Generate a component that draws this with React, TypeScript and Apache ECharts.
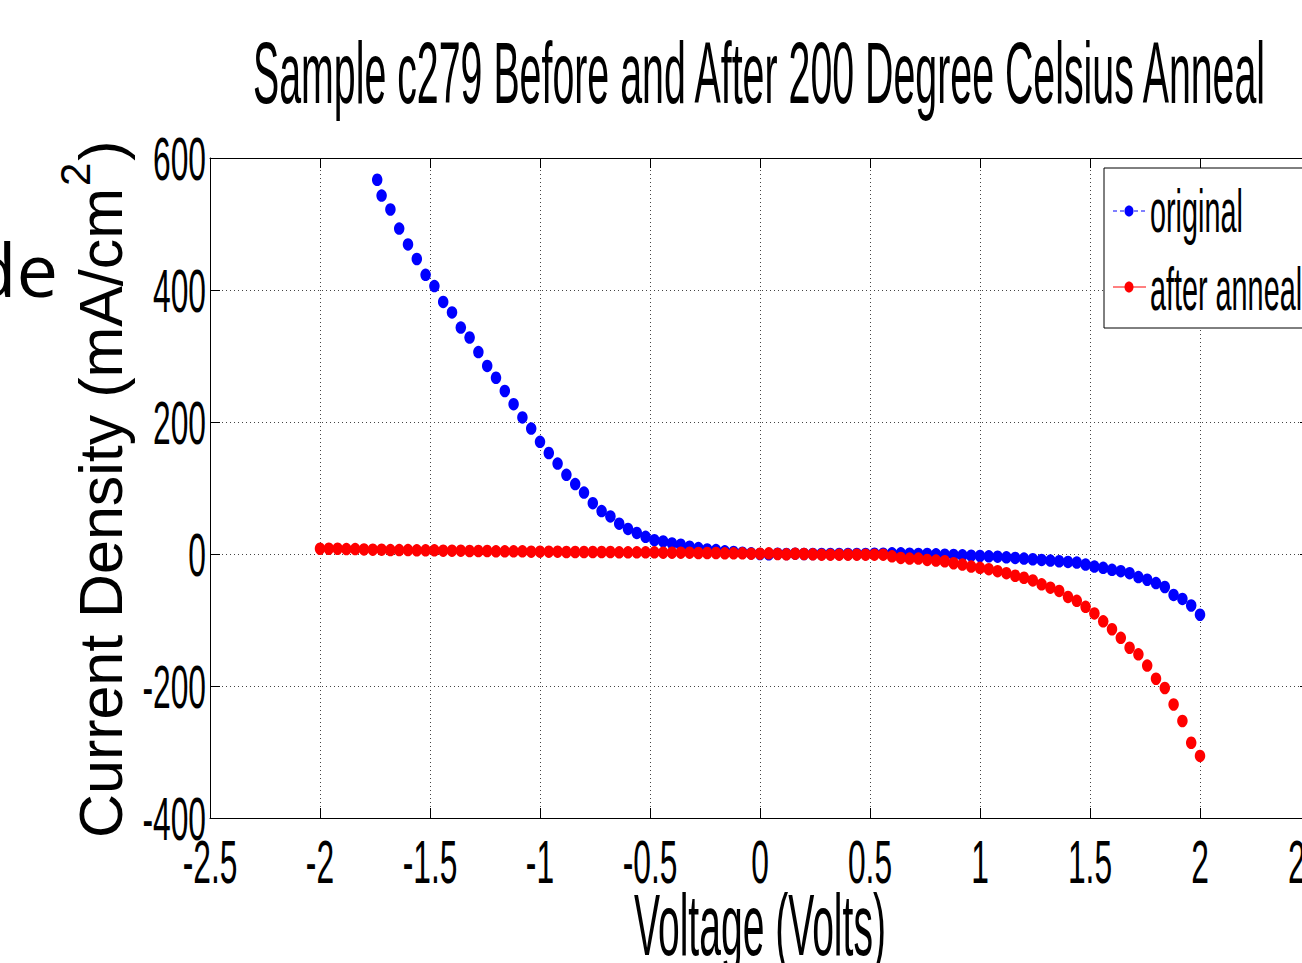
import React, { useEffect, useRef } from "react";
import * as echarts from "echarts";

const TITLE = "Sample c279 Before and After 200 Degree Celsius Anneal";
const X_NAME = "Voltage (Volts)";
const Y_NAME_MAIN = "Current Density (mA/cm";
const Y_NAME_SUP = "2";
const Y_NAME_END = ")";
const SIDE_TEXT = "de";
const SERIES_NAMES = ["original", "after anneal"];

const X_TICKS = [-2.5, -2, -1.5, -1, -0.5, 0, 0.5, 1, 1.5, 2, 2.5];
const X_TICK_LABELS = ["-2.5", "-2", "-1.5", "-1", "-0.5", "0", "0.5", "1", "1.5", "2", "2.5"];
const Y_TICKS = [-400, -200, 0, 200, 400, 600];
const Y_TICK_LABELS = ["-400", "-200", "0", "200", "400", "600"];

const V_ORIGINAL = [
  -1.74, -1.72, -1.68, -1.64, -1.6, -1.56, -1.52, -1.48, -1.44, -1.4, -1.36, -1.32, -1.28, -1.24, -1.2, -1.16,
  -1.12, -1.08, -1.04, -1.0, -0.96, -0.92, -0.88, -0.84, -0.8, -0.76, -0.72, -0.68, -0.64, -0.6, -0.56, -0.52,
  -0.48, -0.44, -0.4, -0.36, -0.32, -0.28, -0.24, -0.2, -0.16, -0.12, -0.08, -0.04, 0, 0.04, 0.08, 0.12,
  0.16, 0.2, 0.24, 0.28, 0.32, 0.36, 0.4, 0.44, 0.48, 0.52, 0.56, 0.6, 0.64, 0.68, 0.72, 0.76,
  0.8, 0.84, 0.88, 0.92, 0.96, 1.0, 1.04, 1.08, 1.12, 1.16, 1.2, 1.24, 1.28, 1.32, 1.36, 1.4,
  1.44, 1.48, 1.52, 1.56, 1.6, 1.64, 1.68, 1.72, 1.76, 1.8, 1.84, 1.88, 1.92, 1.96, 2.0,
];
const J_ORIGINAL = [
  567, 543, 522, 493, 469, 447, 423, 406, 382, 366, 343, 328, 306, 285, 267, 247,
  227, 207, 190, 170, 153, 137, 120, 106, 93, 77, 65, 57, 46, 38, 32, 26,
  21, 19, 16, 14, 11, 9, 7, 6, 4, 3, 2, 1, 0, -0.5, 0.5, 0,
  0.5, 0, 0, 0, 0, 0, 0, 0, 0, 0.5, 0.5, 1, 1, 0.5, 0, 0,
  -0.5, -1, -1.5, -2, -2.5, -3, -3.5, -4, -5, -6, -7, -8, -9, -10, -11, -12,
  -13, -16, -19, -21, -24, -26, -29, -35, -39, -44, -50, -62, -68, -78, -92,
];

const V_ANNEAL = [
  -2.0, -1.96, -1.92, -1.88, -1.84, -1.8, -1.76, -1.72, -1.68, -1.64, -1.6, -1.56, -1.52, -1.48, -1.44, -1.4,
  -1.36, -1.32, -1.28, -1.24, -1.2, -1.16, -1.12, -1.08, -1.04, -1.0, -0.96, -0.92, -0.88, -0.84, -0.8, -0.76,
  -0.72, -0.68, -0.64, -0.6, -0.56, -0.52, -0.48, -0.44, -0.4, -0.36, -0.32, -0.28, -0.24, -0.2, -0.16, -0.12,
  -0.08, -0.04, 0, 0.04, 0.08, 0.12, 0.16, 0.2, 0.24, 0.28, 0.32, 0.36, 0.4, 0.44, 0.48, 0.52,
  0.56, 0.6, 0.64, 0.68, 0.72, 0.76, 0.8, 0.84, 0.88, 0.92, 0.96, 1.0, 1.04, 1.08, 1.12, 1.16,
  1.2, 1.24, 1.28, 1.32, 1.36, 1.4, 1.44, 1.48, 1.52, 1.56, 1.6, 1.64, 1.68, 1.72, 1.76, 1.8,
  1.84, 1.88, 1.92, 1.96, 2.0,
];
const J_ANNEAL = [
  8, 8, 8, 7.5, 7.5, 7, 6.5, 6.5, 6, 6, 6, 5.5, 5.5, 5.5, 5, 5,
  5, 4.5, 4.5, 4.5, 4, 4, 4, 4, 3.5, 3.5, 3.5, 3.5, 3, 3, 3, 3,
  3, 3, 2.5, 2.5, 2.5, 2.5, 2.5, 2, 2, 2, 2, 1.5, 1.5, 1.5, 1, 1,
  1, 0.5, 0.5, 1, 0, -0.5, 0.5, 0, -0.5, -1, -1, -1, -1, -1, -1, -1,
  -1, -3.5, -6, -7, -7, -9, -10, -11, -14, -16, -19, -21, -23, -26, -29, -33,
  -36, -40, -46, -51, -56, -65, -71, -80, -90, -102, -114, -127, -142, -152, -169, -189,
  -203, -228, -253, -286, -306,
];

const NARROW = "'Liberation Sans Narrow', 'Liberation Sans', Arial, sans-serif";
const SIDE_FONT = "'Open Sans', 'Noto Sans', sans-serif";

export default function App() {
  const ref = useRef<HTMLDivElement>(null);

  useEffect(() => {
    const el = ref.current;
    if (!el) return;
    const chart = echarts.init(el, null, { renderer: "svg" });

    const axisLine = { show: true, onZero: false, lineStyle: { color: "#000", width: 1 } };
    const axisTick = { show: true, inside: true, length: 10, lineStyle: { color: "#000", width: 1 } };
    const gridLine = { show: true, lineStyle: { type: [1, 3], color: "#444", width: 1 } };

    chart.setOption({
      animation: false,
      backgroundColor: "#ffffff",
      grid: { left: 210, top: 158, width: 1100, height: 660, containLabel: false },
      xAxis: [
        { type: "value", min: -2.5, max: 2.5, interval: 0.5, position: "bottom", axisLine, axisTick, axisLabel: { show: false }, splitLine: gridLine },
        { type: "value", min: -2.5, max: 2.5, interval: 0.5, position: "top", axisLine, axisTick, axisLabel: { show: false }, splitLine: { show: false } },
      ],
      yAxis: [
        { type: "value", min: -400, max: 600, interval: 200, position: "left", axisLine, axisTick, axisLabel: { show: false }, splitLine: gridLine },
        { type: "value", min: -400, max: 600, interval: 200, position: "right", axisLine, axisTick, axisLabel: { show: false }, splitLine: { show: false } },
      ],
      series: [
        {
          name: SERIES_NAMES[0],
          type: "scatter",
          xAxisIndex: 0,
          yAxisIndex: 0,
          symbol: "circle",
          symbolSize: [10.5, 12.5],
          itemStyle: { color: "#0000ff", opacity: 1 },
          data: V_ORIGINAL.map((v, i) => [v, J_ORIGINAL[i]]),
        },
        {
          name: SERIES_NAMES[1],
          type: "scatter",
          xAxisIndex: 0,
          yAxisIndex: 0,
          symbol: "circle",
          symbolSize: [10.5, 12.5],
          itemStyle: { color: "#ff0000", opacity: 1 },
          data: V_ANNEAL.map((v, i) => [v, J_ANNEAL[i]]),
        },
      ],
    });

    const canvas = document.createElement("canvas");
    const ctx = canvas.getContext("2d") as CanvasRenderingContext2D;
    const measure = (t: string, fs: number, fam: string) => {
      ctx.font = `${fs}px ${fam}`;
      return ctx.measureText(t).width;
    };
    const midOffset = (fs: number, fam: string) => {
      ctx.font = `${fs}px ${fam}`;
      const m: any = ctx.measureText("Hg");
      if (typeof m.fontBoundingBoxAscent === "number") {
        return (m.fontBoundingBoxAscent - m.fontBoundingBoxDescent) / 2;
      }
      return 0.3467 * fs;
    };
    const txt = (text: string, x: number, baseline: number, fs: number, fam: string, sx: number, align: string, z = 50) => ({
      type: "text",
      x,
      y: baseline - midOffset(fs, fam),
      scaleX: sx,
      z,
      silent: true,
      style: {
        text,
        fill: "#000",
        font: `${fs}px ${fam}`,
        fontSize: fs,
        fontFamily: fam,
        textAlign: align,
        align,
        textVerticalAlign: "middle",
        verticalAlign: "middle",
      },
    });

    const px = (v: number) => chart.convertToPixel({ xAxisIndex: 0 }, v) as number;
    const py = (v: number) => chart.convertToPixel({ yAxisIndex: 0 }, v) as number;

    const tickFs = 61;
    const tickSx = 53 / measure("600", tickFs, NARROW);

    const graphics: any[] = [];

    // title
    const titleFs = 88;
    graphics.push(txt(TITLE, 759, 103, titleFs, NARROW, 1016 / measure(TITLE, titleFs, NARROW), "center"));

    // x axis name
    const xNameFs = 87;
    graphics.push(txt(X_NAME, 760, 955, xNameFs, NARROW, 252 / measure(X_NAME, xNameFs, NARROW), "center"));

    // tick labels
    X_TICKS.forEach((v, i) => {
      graphics.push(txt(X_TICK_LABELS[i], px(v), 883, tickFs, NARROW, tickSx, "center"));
    });
    Y_TICKS.forEach((v, i) => {
      graphics.push(txt(Y_TICK_LABELS[i], 206, py(v) + 22, tickFs, NARROW, tickSx, "right"));
    });

    // y axis name (rotated)
    const yFs = 61;
    const supFs = 42;
    const wMain = measure(Y_NAME_MAIN, yFs, NARROW);
    const wSup = measure(Y_NAME_SUP, supFs, NARROW);
    const ySx = 650 / wMain;
    const childTxt = (text: string, x: number, baseline: number, fs: number) => ({
      type: "text",
      x,
      y: baseline - midOffset(fs, NARROW),
      silent: true,
      style: {
        text,
        fill: "#000",
        font: `${fs}px ${NARROW}`,
        fontSize: fs,
        fontFamily: NARROW,
        textAlign: "left",
        align: "left",
        textVerticalAlign: "middle",
        verticalAlign: "middle",
      },
    });
    graphics.push({
      type: "group",
      x: 122,
      y: 838,
      rotation: Math.PI / 2,
      scaleX: ySx,
      children: [
        childTxt(Y_NAME_MAIN, 0, 0, yFs),
        childTxt(Y_NAME_SUP, wMain + 2, -32, supFs),
        childTxt(Y_NAME_END, wMain + wSup + 4, 0, yFs),
      ],
    });

    // slide fragment on the left
    graphics.push(txt(SIDE_TEXT, 58, 297, 74, SIDE_FONT, 1, "right"));

    // legend
    const legFs = 61;
    const legSx = 152 / measure(SERIES_NAMES[1], legFs, NARROW);
    graphics.push({
      type: "rect",
      z: 90,
      shape: { x: 1104, y: 168, width: 260, height: 160 },
      style: { fill: "#ffffff", stroke: "#000", lineWidth: 1 },
    });
    const legRows = [
      { name: SERIES_NAMES[0], color: "#0000ff", dash: [4, 3], lineY: 211, base: 232 },
      { name: SERIES_NAMES[1], color: "#ff0000", dash: null as any, lineY: 287, base: 310 },
    ];
    legRows.forEach((r) => {
      graphics.push({
        type: "line",
        z: 95,
        shape: { x1: 1113, y1: r.lineY, x2: 1146, y2: r.lineY },
        style: { stroke: r.color, lineWidth: 1, lineDash: r.dash || undefined },
      });
      graphics.push({
        type: "ellipse",
        z: 96,
        shape: { cx: 1129, cy: r.lineY, rx: 4.5, ry: 5.5 },
        style: { fill: r.color },
      });
      graphics.push(txt(r.name, 1150, r.base, legFs, NARROW, legSx, "left", 97));
    });

    chart.setOption({ graphic: graphics });

    return () => {
      chart.dispose();
    };
  }, []);

  return (
    <div style={{ position: "absolute", left: 0, top: 0, width: 1302, height: 963, overflow: "hidden", background: "#fff" }}>
      <div ref={ref} style={{ position: "absolute", left: 0, top: 0, width: 1330, height: 963 }} />
    </div>
  );
}
